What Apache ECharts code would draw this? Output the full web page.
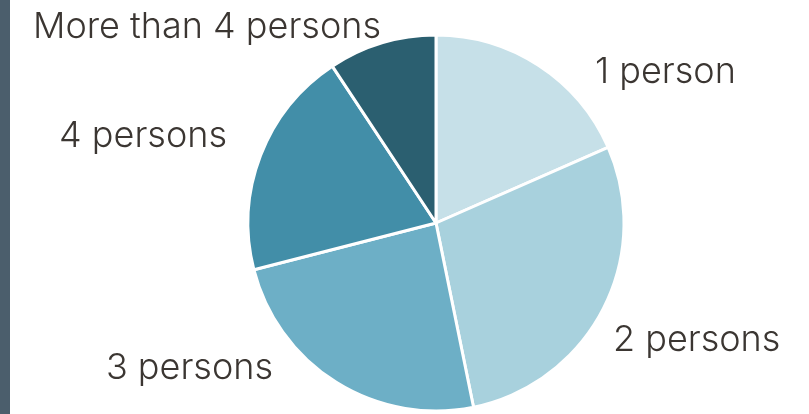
<!DOCTYPE html>
<html>
<head>
<meta charset="utf-8">
<script src="https://cdn.jsdelivr.net/npm/echarts@6/dist/echarts.min.js"></script>
<style>
  html, body { margin: 0; padding: 0; background: #fff; }
  #wrap { position: relative; width: 809px; height: 414px; }
  #bar { position: absolute; left: 0; top: 0; width: 10px; height: 414px; background: #4b5e6c; }
  #chart { position: absolute; left: 0; top: 0; width: 809px; height: 414px; }
</style>
</head>
<body>
<div id="wrap">
  <div id="bar"></div>
  <div id="chart"></div>
</div>
<script>
// household size shares (%)
const categories = ['1 person', '2 persons', '3 persons', '4 persons', 'More than 4 persons'];
const shares = [18.4, 28.4, 24.2, 19.7, 9.3];
const colors = ['#c6e0e8', '#a8d1dd', '#6dafc6', '#428ea8', '#2b5f70'];

// where each label sits (anchor point, align) - layout only
const labelSpots = [
  { x: 595, y: 72, align: 'left' },
  { x: 613, y: 340, align: 'left' },
  { x: 273, y: 368, align: 'right' },
  { x: 227, y: 136, align: 'right' },
  { x: 381, y: 27, align: 'right' }
];

const chart = echarts.init(document.getElementById('chart'), null, { renderer: 'canvas' });

chart.setOption({
  animation: false,
  series: [{
    type: 'pie',
    center: [436, 223],
    radius: 188,
    startAngle: 90,
    clockwise: true,
    data: categories.map((name, i) => ({
      name,
      value: shares[i],
      itemStyle: { color: colors[i] }
    })),
    itemStyle: { borderColor: '#fff', borderWidth: 3 },
    label: {
      show: true,
      position: 'outside',
      formatter: '{b}',
      fontFamily: 'Inter',
      fontWeight: 300,
      fontSize: 36,
      color: '#3b3632',
      overflow: 'none'
    },
    labelLine: { show: false },
    labelLayout: (params) => {
      const s = labelSpots[params.dataIndex];
      return { x: s.x, y: s.y, align: s.align, verticalAlign: 'middle' };
    },
    emphasis: { disabled: true }
  }]
});
</script>
</body>
</html>
